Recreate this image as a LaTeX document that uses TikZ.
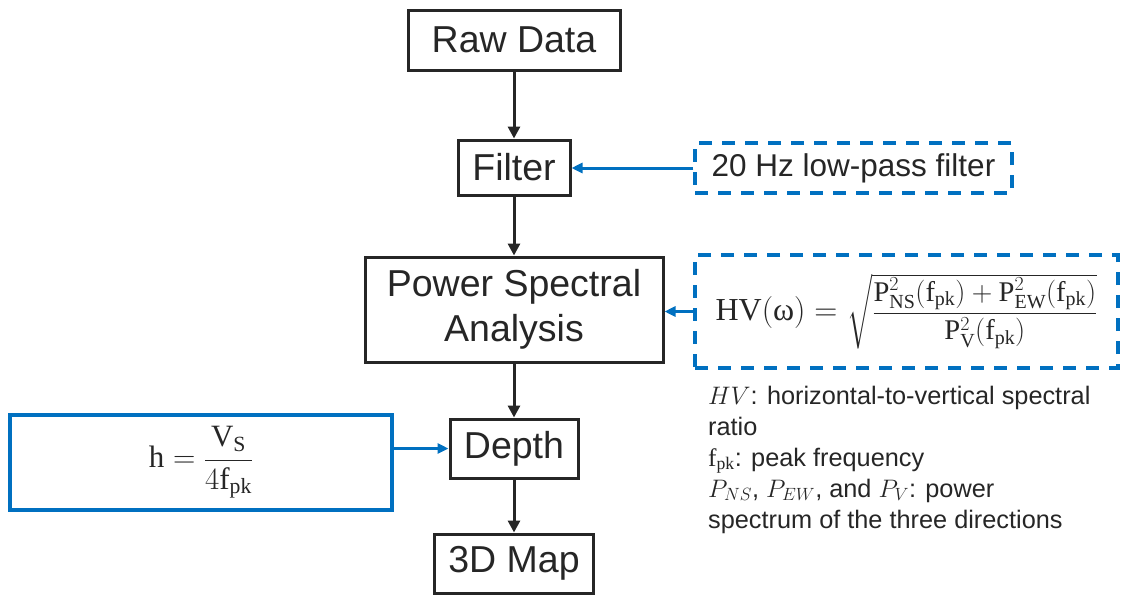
\documentclass[tikz,border=0pt]{standalone}
\usepackage{fix-cm}
\usepackage{amsmath}
\usepackage{fontspec}
\newfontfamily\labelsans{Liberation Sans}
\newfontfamily\eqserif{Liberation Serif}
\setmathrm{Liberation Serif}
\usetikzlibrary{arrows.meta}
\definecolor{ink}{RGB}{38,38,38}
\definecolor{flowblue}{RGB}{0,112,192}

\begin{document}
\begin{tikzpicture}[x=1pt,y=-1pt,
  stepbox/.style={draw=ink, line width=3pt, text=ink, inner sep=0pt,
    align=center, font=\labelsans\fontsize{37.5}{45}\selectfont},
  inputbox/.style={draw=flowblue, line width=3.5pt, text=ink, inner sep=0pt,
    dash pattern=on 13pt off 10pt},
  eqbox/.style={draw=flowblue, line width=3.5pt, text=ink, inner sep=0pt},
  flow/.style={draw=ink, line width=3pt, -{Triangle[length=12pt,width=12pt]}},
  feed/.style={draw=flowblue, line width=3pt, -{Triangle[length=11pt,width=10pt]}},
  note/.style={anchor=base west, inner sep=0pt, text=ink,
    font=\labelsans\fontsize{25.3}{31}\selectfont}]

\useasboundingbox (0,0) rectangle (1124,595);

% main processing chain
\node[stepbox, minimum width=212pt, minimum height=60pt] (raw) at (514,40) {Raw Data};
\node[stepbox, minimum width=112pt, minimum height=55pt] (filter) at (514,167.5) {Filter};
\node[stepbox, minimum width=298pt, minimum height=105pt] (psa) at (514,309.5) {Power Spectral\\Analysis};
\node[stepbox, minimum width=128pt, minimum height=59pt] (depth) at (514,448.5) {Depth};
\node[stepbox, minimum width=159pt, minimum height=59pt] (map) at (514,563.5) {3D Map};

% side inputs
\node[inputbox, minimum width=317pt, minimum height=50pt,
  font=\labelsans\fontsize{31.5}{36}\selectfont] (lp) at (853.5,168) {20 Hz low-pass filter};

\node[inputbox, minimum width=423pt, minimum height=113pt] (hv) at (906.5,311.5) {%
  {\fontsize{32}{36}\selectfont$\mathrm{HV}(\mbox{\eqserif ω}) =$}\hspace{10pt}%
  {\fontsize{28.5}{32}\selectfont$\sqrt{\dfrac{\mathrm{P}^2_{\mathrm{NS}}(\mathrm{f}_{\mathrm{pk}})+\mathrm{P}^2_{\mathrm{EW}}(\mathrm{f}_{\mathrm{pk}})}{\mathrm{P}^2_{\mathrm{V}}(\mathrm{f}_{\mathrm{pk}})}}$}};

\node[eqbox, minimum width=382pt, minimum height=95pt,
  font=\fontsize{31}{36}\selectfont] (hform) at (201,462.5)
  {$\mathrm{h}=\dfrac{\mathrm{V_S}}{4\mathrm{f}_{\mathrm{pk}}}$};

% legend of symbols
\node[note] (n1) at (708,404) {$HV$: horizontal-to-vertical spectral};
\node[note] (n2) at (708,435) {ratio};
\node[note] (n3) at (708,466) {$\mathrm{f}_{\mathrm{pk}}$: peak frequency};
\node[note] (n4) at (708,497) {$P_{NS}$, $P_{EW}$, and $P_V$: power};
\node[note] (n5) at (708,528) {spectrum of the three directions};

% connectors
\draw[flow] (raw.south) -- (filter.north);
\draw[flow] (filter.south) -- (psa.north);
\draw[flow] (psa.south) -- (depth.north);
\draw[flow] (depth.south) -- (map.north);
\draw[feed] (lp.west) -- (lp.west -| filter.east);
\draw[feed] (hv.west) -- (hv.west -| psa.east);
\draw[feed] (hform.east |- depth.west) -- (depth.west);
\end{tikzpicture}
\end{document}
